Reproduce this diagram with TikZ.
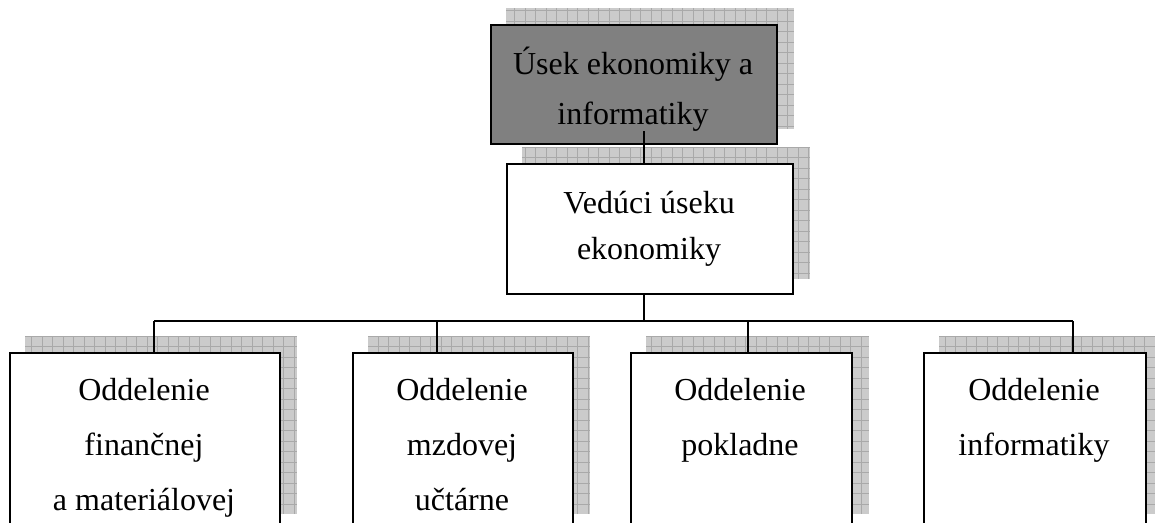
\documentclass[tikz,border=0pt]{standalone}
\usepackage{fontspec}
\setmainfont{Liberation Serif}
\usetikzlibrary{calc}
\definecolor{shadowgray}{HTML}{CBCBCB}
\definecolor{gridgray}{HTML}{A9A9A9}
\definecolor{headgray}{HTML}{808080}
\tikzset{
  boxnode/.style={draw=black, line width=1.8pt, fill=white, rectangle, inner sep=0pt, anchor=north west},
  headbox/.style={boxnode, fill=headgray},
  label/.style={anchor=base, inner sep=0pt, font=\fontsize{32}{38}\selectfont},
  conn/.style={draw=black, line width=1.4pt},
  gridline/.style={draw=gridgray, line width=0.8pt},
}
\newcommand\myshadow[1]{%
  \begin{scope}
    \clip ($(#1.south west)+(16,-16)$) rectangle ($(#1.north east)+(16,-16)$);
    \fill[shadowgray] ($(#1.south west)+(16,-16)$) rectangle ($(#1.north east)+(16,-16)$);
    \foreach \gx in {0,10.5,...,1165} {\draw[gridline] (\gx,0) -- (\gx,530);}
    \foreach \gy in {0,10.5,...,530} {\draw[gridline] (0,\gy) -- (1165,\gy);}
  \end{scope}}
\begin{document}
\begin{tikzpicture}[x=1pt,y=-1pt]
\useasboundingbox (0,0) rectangle (1155,522);
\clip (0,0) rectangle (1155,522);
% boxes (invisible first pass to define names)
\path node[boxnode, draw=none, fill=none, minimum width=286pt, minimum height=119pt] (top) at (490,24) {};
\path node[boxnode, draw=none, fill=none, minimum width=286pt, minimum height=130pt] (ved) at (506,163) {};
\path node[boxnode, draw=none, fill=none, minimum width=270pt, minimum height=176pt] (b1) at (9,352) {};
\path node[boxnode, draw=none, fill=none, minimum width=220pt, minimum height=176pt] (b2) at (352,352) {};
\path node[boxnode, draw=none, fill=none, minimum width=221pt, minimum height=176pt] (b3) at (630,352) {};
\path node[boxnode, draw=none, fill=none, minimum width=222pt, minimum height=176pt] (b4) at (923,352) {};
% shadows
\myshadow{top}
\myshadow{ved}
\myshadow{b1}
\myshadow{b2}
\myshadow{b3}
\myshadow{b4}
% visible boxes
\node[headbox, minimum width=286pt, minimum height=119pt] (topbox) at (490,24) {};
\node[boxnode, minimum width=286pt, minimum height=130pt] (vedbox) at (506,163) {};
\node[boxnode, minimum width=270pt, minimum height=176pt] (b1box) at (9,352) {};
\node[boxnode, minimum width=220pt, minimum height=176pt] (b2box) at (352,352) {};
\node[boxnode, minimum width=221pt, minimum height=176pt] (b3box) at (630,352) {};
\node[boxnode, minimum width=222pt, minimum height=176pt] (b4box) at (923,352) {};
% connectors
\coordinate (tc) at (644,131);
\coordinate (bus) at (644,321);
\coordinate (j1) at (154,321);
\coordinate (j2) at (437,321);
\coordinate (j3) at (748,321);
\coordinate (j4) at (1073,321);
\draw[conn] (tc) -- (tc |- vedbox.north);
\draw[conn] (vedbox.south -| bus) -- (bus);
\draw[conn] (j1) -- (j4);
\draw[conn] (j1) -- (j1 |- b1box.north);
\draw[conn] (j2) -- (j2 |- b2box.north);
\draw[conn] (j3) -- (j3 |- b3box.north);
\draw[conn] (j4) -- (j4 |- b4box.north);
% texts
\node[label] (t1a) at (633,74) {Úsek ekonomiky a};
\node[label] (t1b) at (633,124) {informatiky};
\node[label] (t2a) at (649,213) {Vedúci úseku};
\node[label] (t2b) at (649,259) {ekonomiky};
\node[label] (t3a) at (144,400) {Oddelenie};
\node[label] (t3b) at (144,455) {finančnej};
\node[label] (t3c) at (144,510) {a materiálovej};
\node[label] (t4a) at (462,400) {Oddelenie};
\node[label] (t4b) at (462,455) {mzdovej};
\node[label] (t4c) at (462,510) {učtárne};
\node[label] (t5a) at (740,400) {Oddelenie};
\node[label] (t5b) at (740,455) {pokladne};
\node[label] (t6a) at (1034,400) {Oddelenie};
\node[label] (t6b) at (1034,455) {informatiky};
\end{tikzpicture}
\end{document}
